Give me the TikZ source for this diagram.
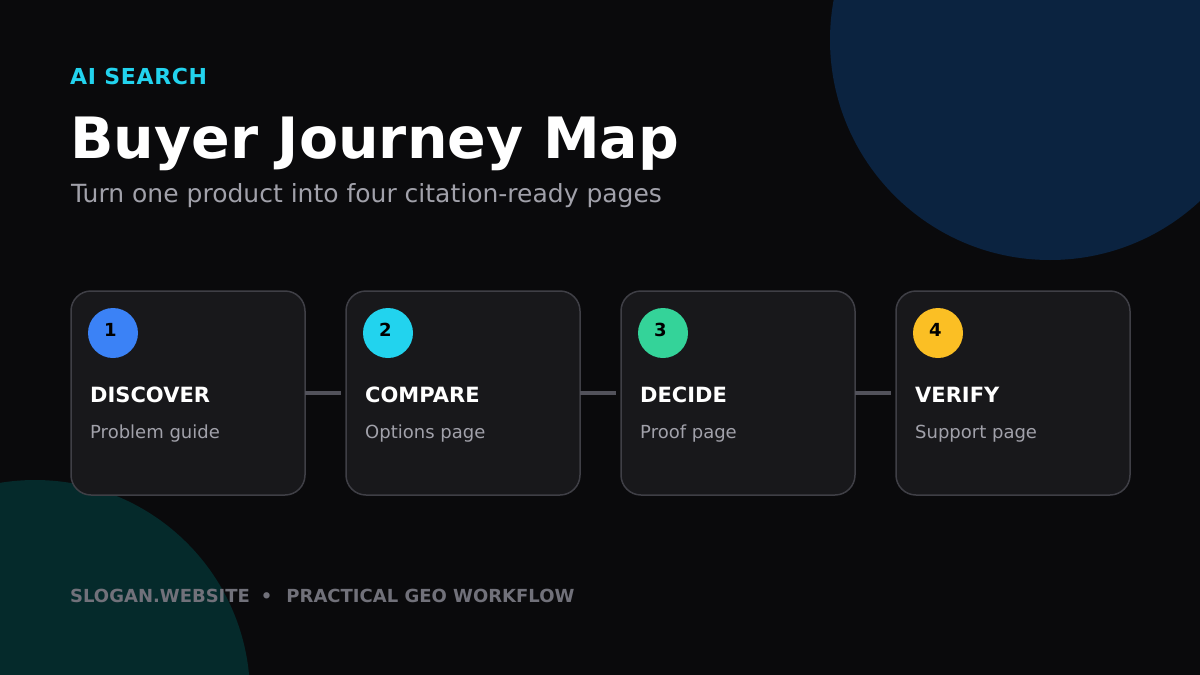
\documentclass[tikz,border=0pt]{standalone}
\usepackage{fontspec}
\setmainfont{DejaVu Sans}
\usetikzlibrary{positioning}
\definecolor{bgcol}{HTML}{0A0A0C}
\definecolor{navycol}{HTML}{0B2340}
\definecolor{tealcol}{HTML}{052A2B}
\definecolor{cardcol}{HTML}{18181B}
\definecolor{edgecol}{HTML}{3F3F46}
\definecolor{linkcol}{HTML}{52525B}
\definecolor{subcol}{HTML}{A1A1AA}
\definecolor{footcol}{HTML}{71717A}
\definecolor{cyancol}{HTML}{22D3EE}
\definecolor{bluecol}{HTML}{3B82F6}
\definecolor{greencol}{HTML}{34D399}
\definecolor{ambercol}{HTML}{FBBF24}
\newcommand{\fs}[1]{\fontsize{#1}{#1}\selectfont}

\begin{document}
\begin{tikzpicture}[x=1pt,y=-1pt,
  card/.style={draw=edgecol,fill=cardcol,line width=1.5pt,rounded corners=20pt,
    minimum width=234pt,minimum height=204pt,anchor=north west,inner sep=0pt,outer sep=0pt},
  badge/.style={circle,minimum size=50pt,inner sep=0pt},
  link/.style={linkcol,line width=4pt,shorten >=5pt}]
  \useasboundingbox (0,0) rectangle (1200,675);
  \fill[bgcol] (0,0) rectangle (1200,675);
  \begin{scope}
    \clip (0,0) rectangle (1200,675);
    \fill[navycol] (1050,40) circle[radius=220pt];
    \fill[tealcol] (35,695) circle[radius=215pt];
  \end{scope}
  % header
  \node[anchor=base west,inner sep=0pt,text=cyancol,font=\fs{22}\bfseries\addfontfeature{LetterSpace=3}] (kicker) at (70,84) {AI SEARCH};
  \node[anchor=base west,inner sep=0pt,text=white,font=\fs{57}\bfseries] (title) at (70,158) {Buyer Journey Map};
  \node[anchor=base west,inner sep=0pt,text=subcol,font=\fs{25}] (subtitle) at (71,202) {Turn one product into four citation-ready pages};
  % stages
  \foreach \i/\name/\page/\col in {1/DISCOVER/Problem guide/bluecol,2/COMPARE/Options page/cyancol,
      3/DECIDE/Proof page/greencol,4/VERIFY/Support page/ambercol}{
    \node[card] (c\i) at ({71+275*(\i-1)},291) {};
    \node[badge,fill=\col] (b\i) at ([xshift=42pt,yshift=-42pt]c\i.north west) {};
    \node[font=\fs{18}\bfseries,text=black,inner sep=0pt] (n\i) at ([xshift=-2.5pt,yshift=3.5pt]b\i.center) {\i};
    \node[anchor=base west,inner sep=0pt,text=white,font=\fs{21}\bfseries] (t\i) at ([xshift=19pt,yshift=-111pt]c\i.north west) {\name};
    \node[anchor=base west,inner sep=0pt,text=subcol,font=\fs{18}] (p\i) at ([xshift=19pt,yshift=-147pt]c\i.north west) {\page};
  }
  \foreach \i/\j in {1/2,2/3,3/4} \draw[link] (c\i.east) -- (c\j.west);
  % footer
  \node[anchor=base west,inner sep=0pt,text=footcol,font=\fs{18}\bfseries] (footer) at (70,602) {SLOGAN.WEBSITE\hspace{11pt}•\hspace{14pt}PRACTICAL GEO WORKFLOW};
\end{tikzpicture}
\end{document}
